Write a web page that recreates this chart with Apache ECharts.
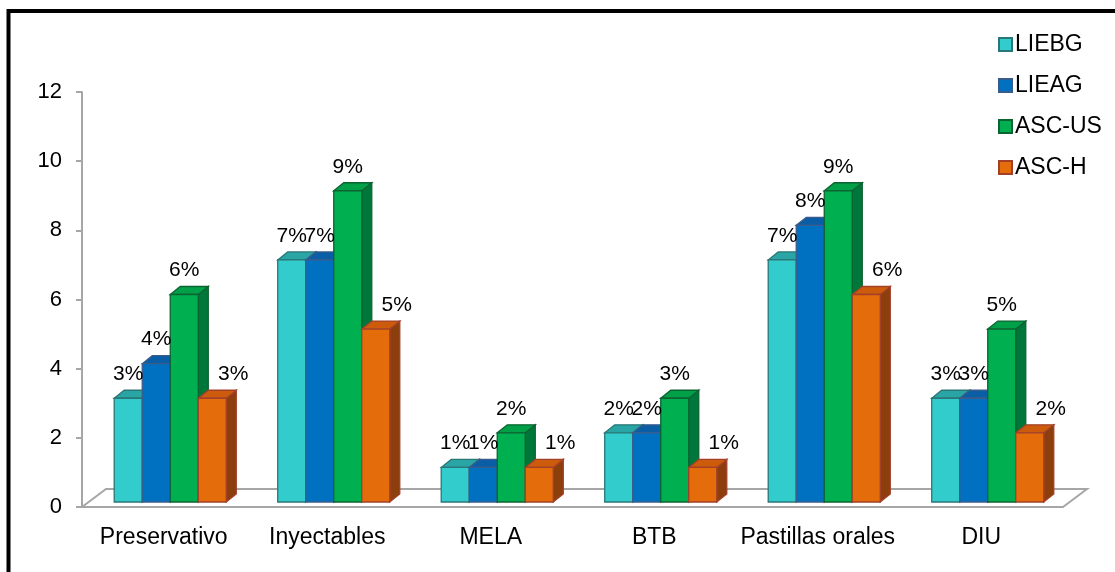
<!DOCTYPE html>
<html>
<head>
<meta charset="utf-8">
<title>Métodos anticonceptivos</title>
<script src="https://cdn.jsdelivr.net/npm/echarts@6/dist/echarts.min.js"></script>
<style>
  html, body { margin: 0; padding: 0; background: #fff; }
  #chart { width: 1115px; height: 572px; }
</style>
</head>
<body>
<div id="chart"></div>
<script>
// datos
var categories = ['Preservativo', 'Inyectables', 'MELA', 'BTB', 'Pastillas orales', 'DIU'];
var seriesNames = ['LIEBG', 'LIEAG', 'ASC-US', 'ASC-H'];
var liebg = [3, 7, 1, 2, 7, 3];
var lieag = [4, 7, 1, 2, 8, 3];
var ascUs = [6, 9, 2, 3, 9, 5];
var ascH = [3, 5, 1, 1, 6, 2];
var yTicks = [0, 2, 4, 6, 8, 10, 12];

// colores: frente, arriba, lado, borde
var palette = [
    { front: '#33CCCC', top: '#2AA5A5', side: '#269A9A', border: '#2B7777' },
    { front: '#0070C0', top: '#0A5EA6', side: '#00528E', border: '#3B5C8A' },
    { front: '#00B050', top: '#00A048', side: '#00773A', border: '#0C6331' },
    { front: '#E46C0A', top: '#CC5C0C', side: '#8C3E0C', border: '#A3402A' }
];
// las etiquetas naranjas van corridas a la derecha
var labelShift = [0, 0, 0, 21];

var DX = 10, DY = -8;        // profundidad de la barra
var OFF_X = 6.5, OFF_Y = -5; // desplazamiento del frente respecto al eje
var FLOOR_DX = 24, FLOOR_DY = -18;

function barRender(k) {
    var c = palette[k];
    return function (params, api) {
        var cat = api.value(0), v = api.value(1);
        var base = api.coord([cat, 0]);
        var top = api.coord([cat, v]);
        var band = api.size([1, 0])[0];
        var w = band * 28 / 163.4;
        var x0 = base[0] + OFF_X + (k - 2) * w;
        var yb = base[1] + OFF_Y, yt = top[1] + OFF_Y;
        var lw = 1.3;
        return {
            type: 'group',
            children: [
                {
                    type: 'polygon',
                    shape: { points: [[x0 + w, yt], [x0 + w + DX, yt + DY], [x0 + w + DX, yb + DY], [x0 + w, yb]] },
                    style: { fill: c.side, stroke: c.border, lineWidth: lw }
                },
                {
                    type: 'polygon',
                    shape: { points: [[x0, yt], [x0 + DX, yt + DY], [x0 + w + DX, yt + DY], [x0 + w, yt]] },
                    style: { fill: c.top, stroke: c.border, lineWidth: lw }
                },
                {
                    type: 'rect',
                    shape: { x: x0, y: yt, width: w, height: yb - yt },
                    style: { fill: c.front, stroke: c.border, lineWidth: lw }
                },
                {
                    type: 'text',
                    z2: 100,
                    style: {
                        text: v + '%', x: x0 + w / 2 + labelShift[k], y: yt - 24,
                        align: 'center', verticalAlign: 'middle',
                        fontSize: 21, fontFamily: 'Liberation Sans, Arial', fill: '#000'
                    }
                }
            ]
        };
    };
}

function floorRender(params, api) {
    var cs = params.coordSys;
    var xl = cs.x, xr = cs.x + cs.width, yf = cs.y + cs.height;
    return {
        type: 'polyline',
        shape: { points: [[xl, yf], [xl + FLOOR_DX, yf + FLOOR_DY], [xr + FLOOR_DX, yf + FLOOR_DY], [xr, yf]] },
        style: { fill: null, stroke: '#A6A6A6', lineWidth: 2 }
    };
}

function toData(arr) {
    return arr.map(function (v, i) { return [i, v]; });
}

var seriesValues = [liebg, lieag, ascUs, ascH];

var series = [{
    name: 'floor',
    type: 'custom',
    renderItem: floorRender,
    data: [[0, 0]],
    silent: true,
    z: 1
}];
seriesValues.forEach(function (vals, k) {
    series.push({
        name: seriesNames[k],
        type: 'custom',
        renderItem: barRender(k),
        data: toData(vals),
        itemStyle: { color: palette[k].front, borderColor: palette[k].border, borderWidth: 1.5 },
        z: 2
    });
});

var chart = echarts.init(document.getElementById('chart'));
chart.setOption({
    animation: false,
    textStyle: { fontFamily: 'Liberation Sans, Arial' },
    graphic: [{
        type: 'rect',
        shape: { x: 8.5, y: 11, width: 1200, height: 700 },
        style: { fill: null, stroke: '#000', lineWidth: 4 },
        z: 0
    }],
    legend: {
        data: seriesNames,
        orient: 'vertical',
        left: 998,
        top: 33,
        padding: 0,
        icon: 'rect',
        itemWidth: 13,
        itemHeight: 13,
        itemGap: 18,
        textStyle: { fontSize: 23, color: '#000', padding: [0, 0, 0, -2] }
    },
    grid: { left: 82, right: 52, top: 92, bottom: 65 },
    xAxis: {
        type: 'category',
        data: categories,
        axisLine: { lineStyle: { color: '#A6A6A6', width: 2 } },
        axisTick: { length: 6, lineStyle: { color: '#A6A6A6', width: 2 } },
        axisLabel: { fontSize: 23, color: '#000', margin: 19, interval: 0 }
    },
    yAxis: {
        type: 'value',
        min: 0,
        max: yTicks[yTicks.length - 1],
        interval: yTicks[1] - yTicks[0],
        splitLine: { show: false },
        axisLine: { show: true, lineStyle: { color: '#A6A6A6', width: 2 } },
        axisTick: { show: true, length: 6, lineStyle: { color: '#A6A6A6', width: 2 } },
        axisLabel: { fontSize: 22, color: '#000', margin: 20 }
    },
    series: series
});
</script>
</body>
</html>
